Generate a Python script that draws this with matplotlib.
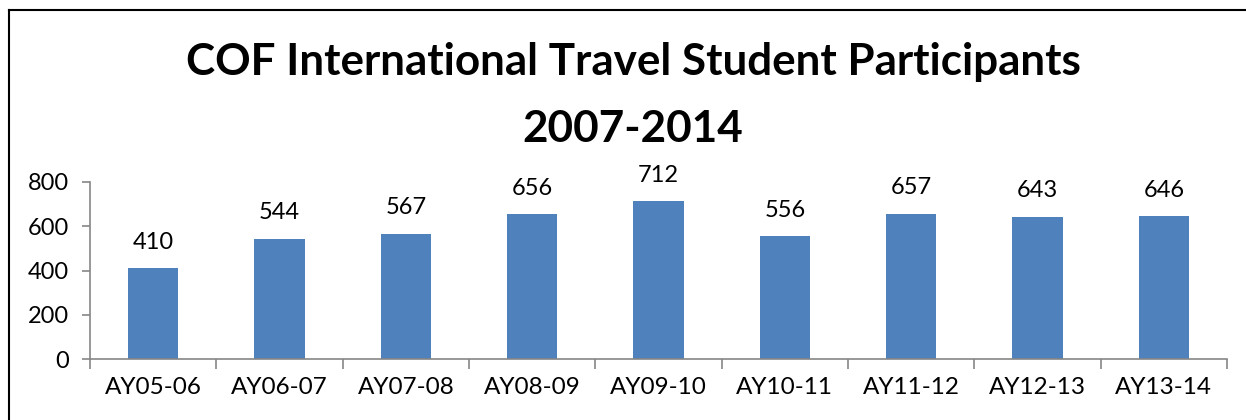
import matplotlib.pyplot as plt
from matplotlib.lines import Line2D

years = ["AY05-06", "AY06-07", "AY07-08", "AY08-09", "AY09-10",
         "AY10-11", "AY11-12", "AY12-13", "AY13-14"]
participants = [410, 544, 567, 656, 712, 556, 657, 643, 646]
yticks = [0, 200, 400, 600, 800]

plt.rcParams['font.family'] = ['Lato', 'DejaVu Sans']

fig = plt.figure(figsize=(12.46, 4.2), dpi=100)
ax = fig.add_axes([90 / 1246, 61 / 420, 1137 / 1246, 177 / 420])

x = range(len(years))
bars = ax.bar(x, participants, width=0.4, color="#4F81BD", zorder=2)
for b, v in zip(bars, participants):
    ax.annotate(str(v), (b.get_x() + b.get_width() / 2, v), xytext=(0, 11),
                textcoords="offset points", ha="center", va="bottom", fontsize=17)

ax.set_xlim(-0.5, len(years) - 0.5)
ax.set_ylim(0, 800)
ax.set_yticks(yticks)
ax.set_xticks(list(x))
ax.set_xticklabels(years)
ax.set_xticks([i - 0.5 for i in range(len(years) + 1)], minor=True)
ax.tick_params(axis="x", which="major", length=0, pad=13, labelsize=17.5)
ax.tick_params(axis="x", which="minor", length=7, color="#868686", width=1.2)
ax.tick_params(axis="y", length=6, color="#868686", width=1.2, labelsize=17, pad=9)
for s in ["top", "right"]:
    ax.spines[s].set_visible(False)
for s in ["left", "bottom"]:
    ax.spines[s].set_color("#868686")
    ax.spines[s].set_linewidth(1.2)

fig.text(633 / 1246, 1 - 62 / 420, "COF International Travel Student Participants",
         ha="center", va="center", fontsize=31.7, fontweight="bold")
fig.text(633 / 1246, 1 - 129 / 420, "2007-2014",
         ha="center", va="center", fontsize=31.7, fontweight="bold")

# outer chart border (only left and top visible in the crop)
fig.add_artist(Line2D([9 / 1246, 9 / 1246], [0, 1 - 10 / 420], color="black", lw=1.5))
fig.add_artist(Line2D([9 / 1246, 1], [1 - 10 / 420, 1 - 10 / 420], color="black", lw=1.5))

fig.savefig("out.png", dpi=100)
